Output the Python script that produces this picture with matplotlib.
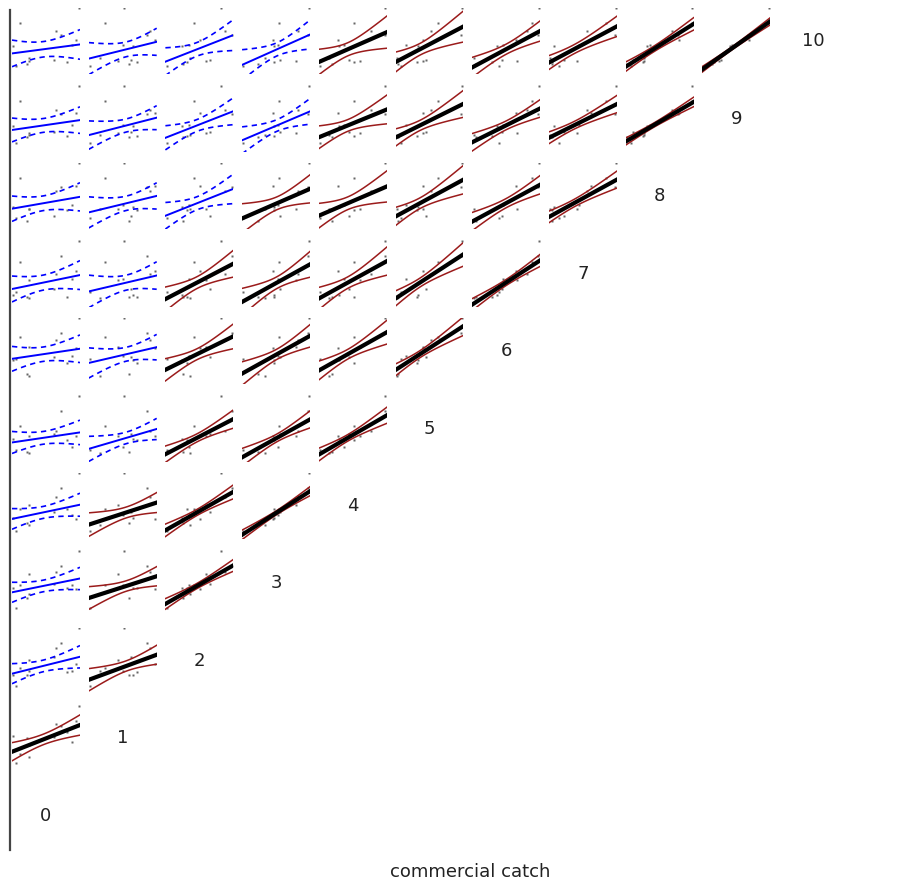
import numpy as np
import matplotlib
matplotlib.use("Agg")
import matplotlib.pyplot as plt
from matplotlib.lines import Line2D

# log catch at age, one value per year (12 years used in the fits)
age0 = [5.3, 6.6, 7.1, 5.4, 6.8, 7.3, 6.5, 5.0, 5.4, 4.7, 7.5, 4.8]
age1 = [7.2, 8.5, 7.7, 5.4, 8.3, 6.8, 7.3, 5.7, 6.5, 7.4, 8.8, 4.8]
age2 = [6.2, 10.2, 6.6, 6.8, 10.9, 6.7, 8.8, 7.2, 8.4, 6.1, 7.8, 4.6]
age3 = [5.4, 10.0, 7.2, 6.2, 11.2, 7.7, 8.0, 7.8, 9.8, 7.2, 7.1, 3.7]
age4 = [5.5, 10.2, 8.1, 5.2, 11.8, 7.0, 7.5, 8.1, 8.8, 6.4, 6.2, 4.1]
age5 = [4.2, 8.4, 6.6, 4.0, 12.4, 5.2, 7.8, 9.3, 7.4, 6.8, 7.4, 4.6]
age6 = [2.7, 9.4, 4.8, 2.4, 10.8, 6.2, 6.1, 10.0, 8.0, 5.5, 7.9, 5.7]
age7 = [3.1, 8.0, 3.0, 2.8, 11.9, 6.8, 4.8, 10.6, 6.6, 3.4, 8.6, 4.0]
age8 = [1.4, 8.6, 4.0, 4.2, 9.6, 5.1, 2.4, 11.8, 4.2, 4.6, 9.8, 2.0]
age9 = [2.1, 9.9, 2.5, 2.9, 8.7, 5.7, 3.7, 12.5, 3.3, 5.3, 8.9, 0.5]
age10 = [1.3, 9.8, 1.8, 2.7, 8.8, 6.2, 2.2, 11.8, 2.0, 5.8, 7.4, 0.8]

# extra point per panel, not fitted: recent catch (x) against next catch (y)
recent_catch = [7.6, 6.9, 9.8, 11.3, 11.9, 12.5, 10.9, 12.0, 11.9, 12.6, 11.9]
next_catch = [np.nan, 10.2, 13.1, 13.8, 14.5, 15.3, 13.7, 15.1, 15.4, 16.7, 15.7]

# first column whose regression is significant, per row (age on y)
first_sig_col = [None, 0, 1, 1, 1, 2, 2, 2, 3, 4, 4]

catch = [age0, age1, age2, age3, age4, age5, age6, age7, age8, age9, age10]
nage = len(catch)
t90 = 1.812  # t quantile for a 90% band, 10 df

fig = plt.figure(figsize=(9.2, 8.88), dpi=100)
gs = fig.add_gridspec(nage, nage, left=12/920, right=847/920,
                      top=1-8/888, bottom=1-849/888,
                      wspace=0.128, hspace=0.174)

for r in range(1, nage):
    for c in range(r):
        ax = fig.add_subplot(gs[nage-1-r, c])
        ax.axis("off")
        x = np.array(catch[c])
        y = np.array(catch[r])

        xlo, xhi = x.min(), max(x.max(), recent_catch[c])
        xr = xhi - xlo
        ax.set_xlim(xlo - 0.02*xr, xhi + 0.02*xr)
        ylo, yr = y.min(), y.max() - y.min()
        ax.set_ylim(ylo - 0.2*yr, next_catch[r] + 0.01*yr)

        b, a = np.polyfit(x, y, 1)
        n = len(x)
        resid = y - (a + b*x)
        s = np.sqrt(np.sum(resid**2) / (n - 2))
        sxx = np.sum((x - x.mean())**2)
        xs = np.linspace(*ax.get_xlim(), 60)
        fit = a + b*xs
        half = t90 * s * np.sqrt(1/n + (xs - x.mean())**2 / sxx)

        ax.plot(np.append(x, recent_catch[c]), np.append(y, next_catch[r]),
                ls="none", marker="s", ms=1.6, mec="none",
                color="#666666", zorder=1)
        if c >= first_sig_col[r]:
            ax.plot(xs, fit + half, color="#9b1b1b", lw=1.1, zorder=2)
            ax.plot(xs, fit - half, color="#9b1b1b", lw=1.1, zorder=2)
            ax.plot(xs, fit, color="black", lw=3.0, zorder=3)
        else:
            ax.plot(xs, fit + half, color="#0000ff", lw=1.2,
                    dashes=(3.2, 2.6), zorder=2)
            ax.plot(xs, fit - half, color="#0000ff", lw=1.2,
                    dashes=(3.2, 2.6), zorder=2)
            ax.plot(xs, fit, color="#0000ff", lw=1.4, zorder=3)

# age labels on the diagonal
for k in range(nage):
    ax = fig.add_subplot(gs[nage-1-k, k])
    ax.axis("off")
    ax.text(0.5, 0.5, str(k), ha="center", va="center",
            fontsize=13, color="#222222", transform=ax.transAxes)

fig.add_artist(Line2D([10/920, 10/920], [1-10/888, 1-850/888],
                      transform=fig.transFigure, color="#444444", lw=1.6))
fig.text(470/920, 1-872/888, "commercial catch", ha="center", va="center",
         fontsize=13, color="#222222")

fig.savefig("out.png", dpi=100)
